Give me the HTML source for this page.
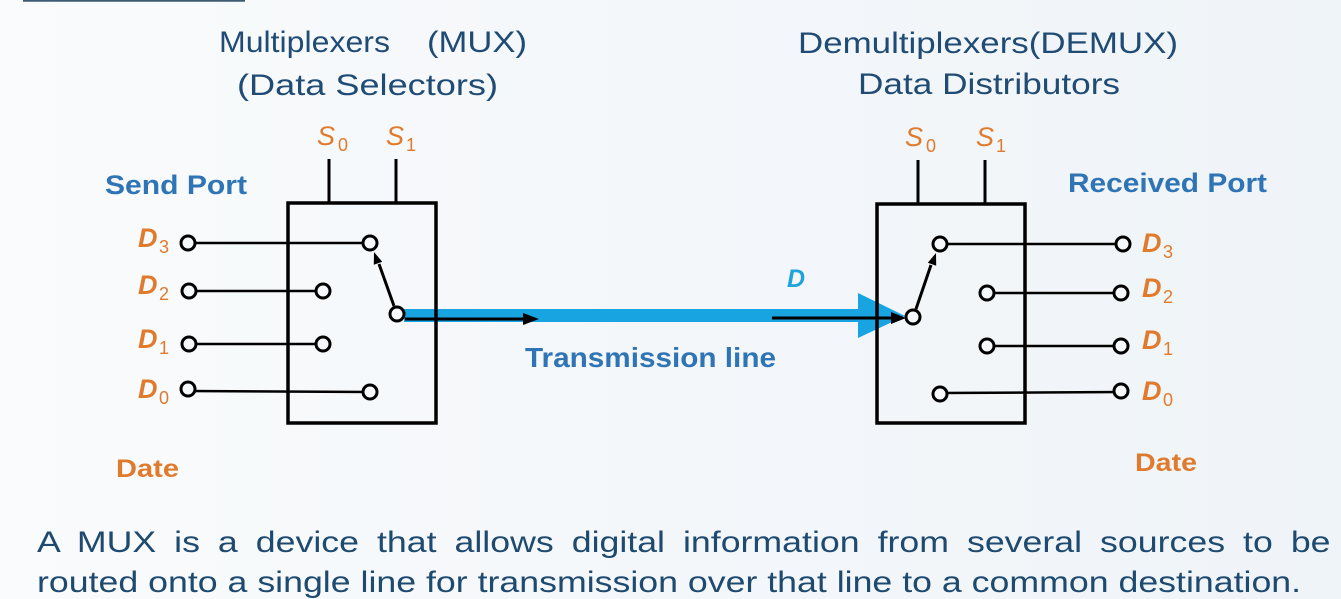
<!DOCTYPE html>
<html><head><meta charset="utf-8">
<style>
html,body{margin:0;padding:0;}
body{width:1341px;height:598px;overflow:hidden;position:relative;background:linear-gradient(90deg,#f9fbfc 0%,#f4f7fa 50%,#eff4f8 100%);font-family:"Liberation Sans","Noto Sans CJK SC",sans-serif;}
svg{position:absolute;left:0;top:0;}
.para{position:absolute;left:37px;font-size:30px;line-height:30px;color:#1f4a70;transform-origin:0 0;transform:scaleX(1.19);white-space:nowrap;}
.l1{top:527.5px;width:1087px;text-align:justify;text-align-last:justify;white-space:normal;}
.l2{top:567.5px;}
</style></head><body>
<svg width="1341" height="598" viewBox="0 0 1341 598" xmlns="http://www.w3.org/2000/svg" font-family="Liberation Sans, Noto Sans CJK SC, sans-serif">
<line x1="23" y1="0.8" x2="245" y2="0.8" stroke="#3e5a73" stroke-width="2"/>

<!-- titles -->
<g fill="#1f4b74" font-size="30">
<text x="219" y="52" textLength="171" lengthAdjust="spacingAndGlyphs">Multiplexers</text>
<text x="427" y="52" textLength="100" lengthAdjust="spacingAndGlyphs">(MUX)</text>
<text x="237" y="95" textLength="261" lengthAdjust="spacingAndGlyphs">(Data Selectors)</text>
<text x="798" y="53" textLength="380" lengthAdjust="spacingAndGlyphs">Demultiplexers(DEMUX)</text>
<text x="858" y="94" textLength="262" lengthAdjust="spacingAndGlyphs">Data Distributors</text>
</g>

<!-- S labels -->
<g fill="#e07a2c" font-style="italic" font-size="27">
<text x="317" y="145">S</text><text x="338" y="151" font-size="18" font-style="normal">0</text>
<text x="386" y="145">S</text><text x="406" y="151" font-size="18" font-style="normal">1</text>
<text x="905" y="146">S</text><text x="926" y="152" font-size="18" font-style="normal">0</text>
<text x="976" y="146">S</text><text x="996" y="152" font-size="18" font-style="normal">1</text>
</g>

<!-- port labels -->
<g fill="#2f74b5" font-weight="bold">
<text x="105" y="194" font-size="27" textLength="142" lengthAdjust="spacingAndGlyphs">Send Port</text>
<text x="1068" y="192" font-size="27" textLength="199" lengthAdjust="spacingAndGlyphs">Received Port</text>
<text x="525" y="367" font-size="28" textLength="251" lengthAdjust="spacingAndGlyphs">Transmission line</text>
</g>
<text x="787" y="287" fill="#1ea3de" font-weight="bold" font-style="italic" font-size="25">D</text>

<!-- D labels -->
<g fill="#e07a2c" font-weight="bold" font-style="italic" font-size="27">
<text x="138" y="247">D</text><text x="159" y="253" font-size="18" font-weight="normal" font-style="normal">3</text>
<text x="138" y="294">D</text><text x="159" y="300" font-size="18" font-weight="normal" font-style="normal">2</text>
<text x="138" y="348">D</text><text x="159" y="354" font-size="18" font-weight="normal" font-style="normal">1</text>
<text x="138" y="398">D</text><text x="159" y="404" font-size="18" font-weight="normal" font-style="normal">0</text>
<text x="1142" y="252">D</text><text x="1163" y="258" font-size="18" font-weight="normal" font-style="normal">3</text>
<text x="1142" y="297">D</text><text x="1163" y="303" font-size="18" font-weight="normal" font-style="normal">2</text>
<text x="1142" y="349">D</text><text x="1163" y="355" font-size="18" font-weight="normal" font-style="normal">1</text>
<text x="1142" y="400">D</text><text x="1163" y="406" font-size="18" font-weight="normal" font-style="normal">0</text>
</g>
<g fill="#e07a2c" font-weight="bold" font-size="25">
<text x="116" y="477" textLength="63" lengthAdjust="spacingAndGlyphs">Date</text>
<text x="1135" y="471" textLength="62" lengthAdjust="spacingAndGlyphs">Date</text>
</g>

<!-- blue transmission line -->
<rect x="404" y="309" width="458" height="13" fill="#18a4e0"/>
<polygon points="858,293 905,316 858,338" fill="#18a4e0"/>

<!-- select lines -->
<g stroke="#000" stroke-width="3">
<line x1="329" y1="159" x2="329" y2="203"/>
<line x1="396" y1="159" x2="396" y2="203"/>
<line x1="918" y1="160" x2="918" y2="204"/>
<line x1="985" y1="160" x2="985" y2="204"/>
</g>

<!-- data lines -->
<g stroke="#000" stroke-width="2.5">
<line x1="188" y1="243" x2="370" y2="243"/>
<line x1="189" y1="291" x2="323" y2="291"/>
<line x1="189" y1="344" x2="323" y2="344"/>
<line x1="188" y1="391" x2="370" y2="392"/>
<line x1="940" y1="244" x2="1123" y2="244"/>
<line x1="987" y1="293" x2="1121" y2="293"/>
<line x1="987" y1="346" x2="1121" y2="346"/>
<line x1="940" y1="393" x2="1121" y2="392"/>
</g>

<!-- boxes -->
<rect x="288" y="203" width="148" height="220" fill="none" stroke="#000" stroke-width="3.5"/>
<rect x="877" y="204" width="148" height="219" fill="none" stroke="#000" stroke-width="3.5"/>

<!-- black arrows -->
<g stroke="#000" stroke-width="3">
<line x1="405" y1="319" x2="527" y2="319"/>
<line x1="772" y1="318" x2="894" y2="318"/>
<line x1="394" y1="306" x2="379" y2="264"/>
<line x1="916" y1="309" x2="931" y2="265"/>
</g>
<g fill="#000">
<polygon points="523,313 539,319 523,325"/>
<polygon points="891,312 906,318 891,324"/>
<polygon points="374,252 382.2,261.8 373.8,264.8"/>
<polygon points="936,253 936.2,265.8 927.8,262.8"/>
</g>

<!-- terminals -->
<g fill="#f6f9fb" stroke="#000" stroke-width="3">
<circle cx="188" cy="243" r="7"/>
<circle cx="189" cy="291" r="7"/>
<circle cx="189" cy="344" r="7"/>
<circle cx="188" cy="389" r="7"/>
<circle cx="370" cy="243" r="7"/>
<circle cx="323" cy="291" r="7"/>
<circle cx="323" cy="344" r="7"/>
<circle cx="370" cy="392" r="7"/>
<circle cx="397" cy="314" r="7"/>
<circle cx="913" cy="317" r="7"/>
<circle cx="940" cy="244" r="7"/>
<circle cx="987" cy="293" r="7"/>
<circle cx="987" cy="346" r="7"/>
<circle cx="940" cy="394" r="7"/>
<circle cx="1123" cy="244" r="7"/>
<circle cx="1121" cy="293" r="7"/>
<circle cx="1121" cy="346" r="7"/>
<circle cx="1121" cy="391" r="7"/>
</g>
</svg>
<div class="para l1">A MUX is a device that allows digital information from several sources to be</div>
<div class="para l2">routed onto a single line for transmission over that line to a common destination.</div>
</body></html>
